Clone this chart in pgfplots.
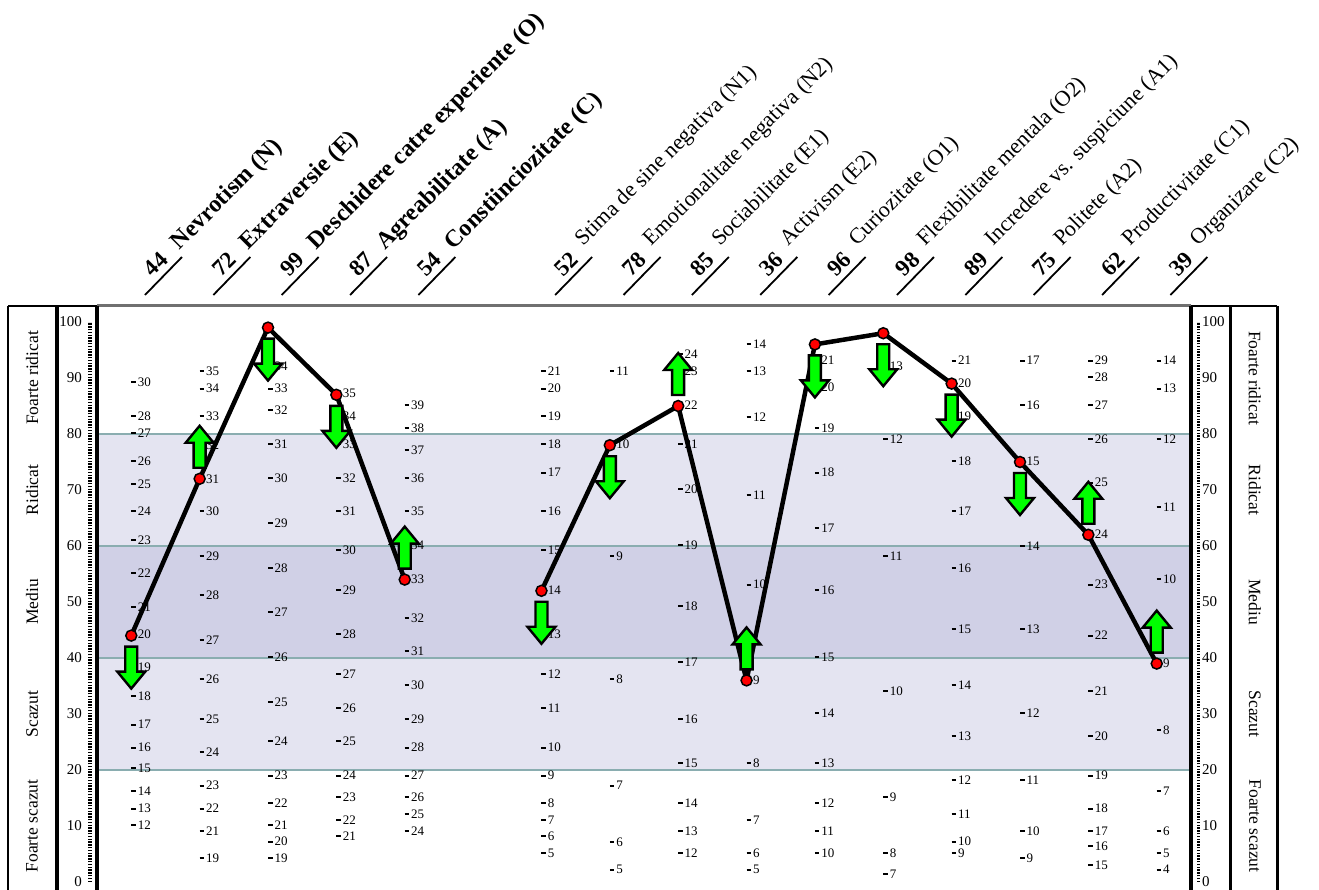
\documentclass[border=0pt]{standalone}
\usepackage{pgfplots}
\pgfplotsset{compat=1.18}
\usepackage{pgfplotstable}
\usepackage{fontspec}
\setmainfont{Liberation Serif}
\usetikzlibrary{calc}

\definecolor{bandlight}{HTML}{E4E4F1}
\definecolor{banddark}{HTML}{D0D0E6}
\definecolor{bandline}{HTML}{8AADB0}
\definecolor{arrowgreen}{HTML}{00FF00}
\definecolor{topgray}{HTML}{707070}

% block arrows, tail 11pt away from the score point
\pgfdeclareplotmark{uparr}{%
  \pgfpathmoveto{\pgfpoint{-6pt}{11pt}}%
  \pgfpathlineto{\pgfpoint{6pt}{11pt}}%
  \pgfpathlineto{\pgfpoint{6pt}{36pt}}%
  \pgfpathlineto{\pgfpoint{14pt}{36pt}}%
  \pgfpathlineto{\pgfpoint{0pt}{53pt}}%
  \pgfpathlineto{\pgfpoint{-14pt}{36pt}}%
  \pgfpathlineto{\pgfpoint{-6pt}{36pt}}%
  \pgfpathclose
  \pgfusepathqfillstroke}
\pgfdeclareplotmark{downarr}{%
  \pgfpathmoveto{\pgfpoint{-6pt}{-11pt}}%
  \pgfpathlineto{\pgfpoint{6pt}{-11pt}}%
  \pgfpathlineto{\pgfpoint{6pt}{-36pt}}%
  \pgfpathlineto{\pgfpoint{14pt}{-36pt}}%
  \pgfpathlineto{\pgfpoint{0pt}{-53pt}}%
  \pgfpathlineto{\pgfpoint{-14pt}{-36pt}}%
  \pgfpathlineto{\pgfpoint{-6pt}{-36pt}}%
  \pgfpathclose
  \pgfusepathqfillstroke}
\pgfdeclareplotmark{rawdash}{%
  \pgfpathmoveto{\pgfpoint{0pt}{0pt}}%
  \pgfpathlineto{\pgfpoint{4.5pt}{0pt}}%
  \pgfusepathqstroke}

\newcommand{\hnum}{\fontsize{23}{23}\selectfont\bfseries}
\newcommand{\hbig}{\fontsize{24}{24}\selectfont\bfseries}
\newcommand{\hfac}{\fontsize{22}{22}\selectfont}
\newcommand{\sidefont}{\fontsize{17.5}{17.5}\selectfont}
\newcommand{\tickfont}{\fontsize{15}{15}\selectfont}
\newcommand{\rawfont}{\fontsize{13}{13}\selectfont}

% column header: underline, score, name (#5 = offset of the name)
\newcommand{\hdr}[5]{%
  \draw[line width=1.8pt] (axis cs:#1,102.86) ++(13.7pt,11pt) -- ++(37pt,38pt);
  \path (axis cs:#1,102.86) ++(21.5pt,28pt) node[rotate=45,anchor=base west,inner sep=0pt,font=\hnum] {#2};
  \path (axis cs:#1,102.86) ++#5 node[rotate=45,anchor=base west,inner sep=0pt,font=#4] {#3};}

\pgfplotstableread{
x y
0 44
1 72
2 99
3 87
4 54
}\bigfive
\pgfplotstableread{
x y
6 52
7 78
8 85
9 36
10 96
11 98
12 89
13 75
14 62
15 39
}\facets
\pgfplotstableread{
x y
1 72
4 54
8 85
9 36
14 62
15 39
}\uptab
\pgfplotstableread{
x y
0 44
2 99
3 87
6 52
7 78
10 96
11 98
12 89
13 75
}\downtab
\pgfplotstableread{
x y lab
0 89.2 30
0 83.2 28
0 80.2 27
0 75.1 26
0 71.1 25
0 66.2 24
0 61.1 23
0 55.2 22
0 49.1 21
0 44.2 20
0 38.3 19
0 33.2 18
0 28.1 17
0 24.0 16
0 20.3 15
0 16.2 14
0 13.1 13
0 10.2 12
1 91.2 35
1 88.1 34
1 83.2 33
1 78.0 32
1 72.0 31
1 66.2 30
1 58.2 29
1 51.2 28
1 43.2 27
1 36.2 26
1 29.1 25
1 23.2 24
1 17.2 23
1 13.1 22
1 9.1 21
1 4.2 19
2 92.1 34
2 88.1 33
2 84.2 32
2 78.2 31
2 72.1 30
2 64.1 29
2 56.1 28
2 48.2 27
2 40.1 26
2 32.1 25
2 25.2 24
2 19.0 23
2 14.1 22
2 10.2 21
2 7.2 20
2 4.2 19
3 87.2 35
3 83.2 34
3 78.2 33
3 72.1 32
3 66.2 31
3 59.2 30
3 52.1 29
3 44.2 28
3 37.1 27
3 31.1 26
3 25.2 25
3 19.0 24
3 15.1 23
3 11.1 22
3 8.2 21
4 85.2 39
4 81.1 38
4 77.1 37
4 72.1 36
4 66.2 35
4 60.2 34
4 54.1 33
4 47.1 32
4 41.2 31
4 35.2 30
4 29.1 29
4 24.0 28
4 19.0 27
4 15.1 26
4 12.1 25
4 9.1 24
6 91.2 21
6 88.1 20
6 83.2 19
6 78.2 18
6 73.1 17
6 66.2 16
6 59.2 15
6 52.1 14
6 44.2 13
6 37.1 12
6 31.1 11
6 24.0 10
6 19.0 9
6 14.1 8
6 11.1 7
6 8.2 6
6 5.2 5
7 91.2 11
7 78.2 10
7 58.2 9
7 36.2 8
7 17.2 7
7 7.1 6
7 2.2 5
8 94.3 24
8 91.2 23
8 85.2 22
8 78.2 21
8 70.1 20
8 60.2 19
8 49.3 18
8 39.2 17
8 29.1 16
8 21.2 15
8 14.1 14
8 9.1 13
8 5.2 12
9 96.1 14
9 91.2 13
9 83.0 12
9 69.1 11
9 53.1 10
9 36.0 9
9 21.2 8
9 11.1 7
9 5.2 6
9 2.2 5
10 93.1 21
10 88.3 20
10 81.1 19
10 73.1 18
10 63.2 17
10 52.1 16
10 40.1 15
10 30.1 14
10 21.2 13
10 14.1 12
10 9.1 11
10 5.2 10
11 92.1 13
11 79.1 12
11 58.2 11
11 34.1 10
11 15.1 9
11 5.2 8
11 1.4 7
12 93.1 21
12 89.1 20
12 83.2 19
12 75.1 18
12 66.2 17
12 56.1 16
12 45.1 15
12 35.2 14
12 26.1 13
12 18.2 12
12 12.1 11
12 7.2 10
12 5.2 9
13 93.1 17
13 85.2 16
13 75.1 15
13 60.0 14
13 45.1 13
13 30.1 12
13 18.2 11
13 9.1 10
13 4.2 9
14 93.1 29
14 90.1 28
14 85.2 27
14 79.1 26
14 71.3 25
14 62.1 24
14 53.1 23
14 44.0 22
14 34.1 21
14 26.1 20
14 19.0 19
14 13.1 18
14 9.1 17
14 6.4 16
14 3.0 15
15 93.1 14
15 88.1 13
15 79.1 12
15 67.0 11
15 54.1 10
15 39.0 9
15 27.1 8
15 16.2 7
15 9.1 6
15 5.2 5
15 2.2 4
}\rawtab

\begin{document}
\begin{tikzpicture}
\begin{axis}[
    width=1093.8pt, height=584pt, scale only axis,
    xmin=-0.5, xmax=15.5, ymin=-1.43, ymax=102.86,
    hide axis, clip=false,
  ]
  \coordinate (BL) at (rel axis cs:0,0);
  \coordinate (TL) at (rel axis cs:0,1);
  \coordinate (TR) at (rel axis cs:1,1);
  \coordinate (BR) at (rel axis cs:1,0);

  % level bands
  \fill[bandlight] (axis cs:-0.5,60) rectangle (axis cs:15.5,80);
  \fill[banddark] (axis cs:-0.5,40) rectangle (axis cs:15.5,60);
  \fill[bandlight] (axis cs:-0.5,20) rectangle (axis cs:15.5,40);
  \draw[bandline, line width=2.5pt] (axis cs:-0.5,20) -- (axis cs:15.5,20);
  \draw[bandline, line width=2.5pt] (axis cs:-0.5,40) -- (axis cs:15.5,40);
  \draw[bandline, line width=2.5pt] (axis cs:-0.5,60) -- (axis cs:15.5,60);
  \draw[bandline, line width=2.5pt] (axis cs:-0.5,80) -- (axis cs:15.5,80);

  % raw score scales
  \addplot[only marks, mark=rawdash, mark options={line width=2pt, solid},
    nodes near coords, point meta=explicit symbolic,
    every node near coord/.style={anchor=west, xshift=5pt, inner sep=0.5pt, font=\rawfont, black}]
    table[x=x, y=y, meta=lab] {\rawtab};

  % profile lines
  \addplot[black, line width=4.5pt, line join=round, no marks] table {\bigfive};
  \addplot[black, line width=4.5pt, line join=round, no marks] table {\facets};

  % direction arrows
  \addplot[only marks, mark=uparr, mark options={draw=black, fill=arrowgreen, line width=2.4pt, solid}] table {\uptab};
  \addplot[only marks, mark=downarr, mark options={draw=black, fill=arrowgreen, line width=2.4pt, solid}] table {\downtab};

  % score points
  \addplot[only marks, mark=*, mark size=5.5pt, mark options={fill=red, draw=black, line width=1.5pt}] table {\bigfive};
  \addplot[only marks, mark=*, mark size=5.5pt, mark options={fill=red, draw=black, line width=1.5pt}] table {\facets};

  % column headers
  \hdr{0}{44}{Nevrotism (N)}{\hbig}{(48.5pt,55.5pt)}
  \hdr{1}{72}{Extraversie (E)}{\hbig}{(48.5pt,55.5pt)}
  \hdr{2}{99}{Deschidere catre experiente (O)}{\hbig}{(48.5pt,55.5pt)}
  \hdr{3}{87}{Agreabilitate (A)}{\hbig}{(48.5pt,55.5pt)}
  \hdr{4}{54}{Constiinciozitate (C)}{\hbig}{(48.5pt,55.5pt)}
  \hdr{6}{52}{Stima de sine negativa (N1)}{\hfac}{(42pt,59pt)}
  \hdr{7}{78}{Emotionalitate negativa (N2)}{\hfac}{(42pt,59pt)}
  \hdr{8}{85}{Sociabilitate (E1)}{\hfac}{(42pt,59pt)}
  \hdr{9}{36}{Activism (E2)}{\hfac}{(42pt,59pt)}
  \hdr{10}{96}{Curiozitate (O1)}{\hfac}{(42pt,59pt)}
  \hdr{11}{98}{Flexibilitate mentala (O2)}{\hfac}{(42pt,59pt)}
  \hdr{12}{89}{Incredere vs. suspiciune (A1)}{\hfac}{(42pt,59pt)}
  \hdr{13}{75}{Politete (A2)}{\hfac}{(42pt,59pt)}
  \hdr{14}{62}{Productivitate (C1)}{\hfac}{(42pt,59pt)}
  \hdr{15}{39}{Organizare (C2)}{\hfac}{(42pt,59pt)}
\end{axis}

% percentile scales (5.6pt per unit, 0 lies 8pt above the bottom edge)
\foreach \v in {0,10,...,100}{
  \node[anchor=east, inner sep=0pt, font=\tickfont] at ($(BL)+(-15pt,{8pt+5.6pt*\v})$) {\v};
  \node[anchor=west, inner sep=0pt, font=\tickfont] at ($(BR)+(11pt,{8pt+5.6pt*\v})$) {\v};
}
\draw[line width=3.5pt, dash pattern=on 1.3pt off 1.5pt] ($(BL)+(-7pt,8pt)$) -- ++(0,560pt);
\draw[line width=3.5pt, dash pattern=on 1.3pt off 1.5pt] ($(BR)+(7.6pt,8pt)$) -- ++(0,560pt);

% level names
\foreach \v/\t in {90/Foarte ridicat, 70/Ridicat, 50/Mediu, 30/Scazut, 10/Foarte scazut}{
  \node[rotate=90, font=\sidefont] at ($(BL)+(-65pt,{8pt+5.6pt*\v})$) {\t};
  \node[rotate=-90, font=\sidefont] at ($(BR)+(64pt,{8pt+5.6pt*\v})$) {\t};
}

% frames
\draw[topgray, line width=3pt] (TL) -- (TR);
\draw[line width=2pt] ($(TL)+(-89pt,0)$) -- (TL);
\draw[line width=2pt] (TR) -- ($(TR)+(86.4pt,0)$);
\draw[line width=2pt] ($(BL)+(-89pt,-5pt)$) -- ($(TL)+(-89pt,0)$);
\draw[line width=3.5pt] ($(BL)+(-40pt,-5pt)$) -- ($(TL)+(-40pt,0)$);
\draw[line width=3.5pt] ($(BL)+(0pt,-5pt)$) -- (TL);
\draw[line width=3.5pt] ($(BR)+(0pt,-5pt)$) -- (TR);
\draw[line width=3.5pt] ($(BR)+(39.4pt,-5pt)$) -- ($(TR)+(39.4pt,0)$);
\draw[line width=2.5pt] ($(BR)+(86.4pt,-5pt)$) -- ($(TR)+(86.4pt,0)$);

\pgfresetboundingbox
\path[use as bounding box] ($(BL)+(-97.1pt,0)$) rectangle ($(TR)+(128.1pt,306pt)$);
\end{tikzpicture}
\end{document}
